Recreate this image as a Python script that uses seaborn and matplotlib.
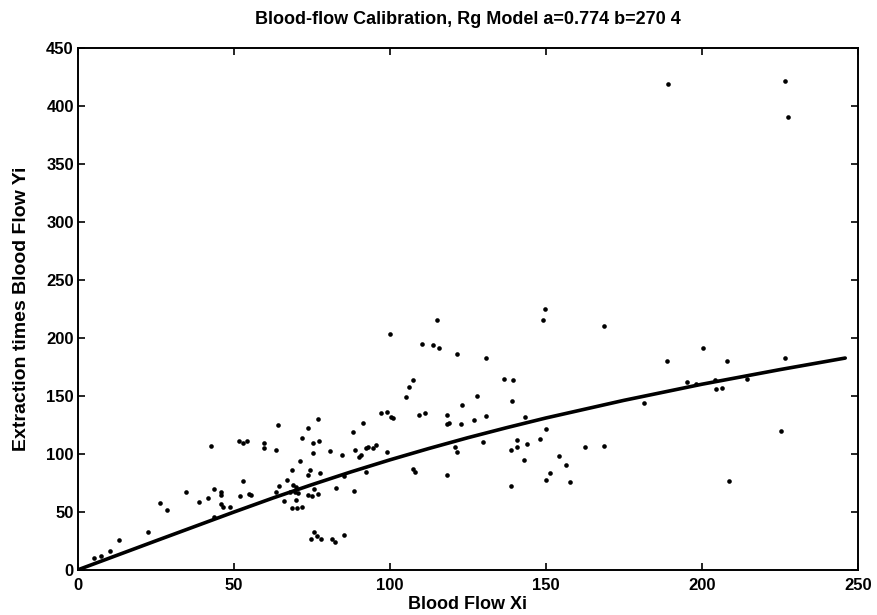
import matplotlib
matplotlib.use("Agg")
import matplotlib.pyplot as plt
import seaborn as sns
import pandas as pd

# Measured points (Blood Flow Xi, Extraction times Blood Flow Yi)
flow_x = [
    5.1, 7.3, 10.3, 13.2, 22.4,
    26.3, 28.4, 34.6, 38.8, 41.8, 42.5, 43.7, 45.7, 45.7, 45.8, 46.6, 48.7, 43.7,
    51.9, 52.8, 54.9, 55.4, 51.7, 53.0, 54.1,
    59.7, 59.7, 63.4, 64.0, 77.0, 73.6, 71.7, 75.3, 77.2, 88.2, 91.4, 75.4, 80.9,
    84.7, 88.8, 90.1, 90.7, 71.2, 68.5, 74.4, 73.8, 77.7, 66.9, 64.5, 68.8, 69.8,
    63.4, 67.9, 69.6, 70.4, 73.8, 74.9, 75.7, 77.0, 82.7, 88.6, 66.0, 69.8, 68.5,
    70.1, 71.7, 85.4,
    75.6, 74.7, 76.7, 77.9, 81.6, 82.4, 85.4,
    115.2, 100.0, 110.2, 113.7, 115.8, 121.6, 107.5, 106.2, 105.2, 123.0, 97.0,
    99.1, 100.5, 101.1, 109.2, 111.3, 118.2, 118.2, 118.9, 122.7, 92.3, 93.0,
    94.6, 95.7, 99.1, 120.8, 121.4, 92.3, 107.3, 108.2, 118.2, 127.0, 128.0,
    130.0, 130.9, 130.9,
    136.5, 139.4, 139.3, 138.9, 140.9, 140.9, 138.9, 143.0, 143.3, 144.0, 148.1,
    150.2, 149.1, 149.8, 150.2, 151.2, 154.3, 156.4, 157.7, 162.5, 168.7, 168.7,
    181.5, 188.9, 195.3, 198.3,
    189.2, 226.6, 227.7, 200.4, 208.1, 226.6, 204.2, 204.5, 206.5, 214.6, 225.5,
    208.7,
]
flow_y = [
    10.0, 11.9, 16.3, 25.8, 32.7,
    57.6, 51.5, 67.4, 58.7, 61.9, 106.6, 69.7, 66.8, 64.8, 56.4, 53.8, 54.1, 45.5,
    63.3, 76.3, 65.6, 64.8, 110.9, 109.5, 110.9,
    109.5, 104.8, 103.7, 124.5, 130.0, 122.5, 113.9, 109.5, 111.5, 119.0, 126.2,
    100.3, 102.3, 99.4, 103.1, 97.4, 99.4, 93.6, 86.1, 86.4, 82.1, 83.5, 77.7,
    72.6, 73.4, 71.4, 67.1, 67.1, 67.1, 66.2, 64.8, 63.9, 69.7, 65.4, 70.6, 67.6,
    59.0, 59.8, 53.2, 53.2, 53.8, 80.9,
    32.5, 26.4, 29.3, 26.4, 26.7, 24.3, 30.4,
    215.7, 203.3, 194.6, 193.8, 190.9, 186.0, 163.5, 157.4, 148.7, 142.4, 135.5,
    136.4, 132.0, 130.8, 133.4, 135.5, 133.2, 125.4, 126.5, 126.0, 105.2, 105.7,
    105.2, 107.2, 101.4, 105.7, 101.7, 84.1, 87.3, 84.4, 81.8, 129.1, 149.6,
    109.8, 182.5, 132.6,
    164.6, 164.1, 145.9, 103.7, 112.1, 105.7, 71.9, 95.1, 132.0, 108.7, 112.4,
    121.3, 215.4, 224.7, 77.5, 83.8, 98.3, 90.5, 75.4, 105.7, 106.6, 210.0,
    143.8, 179.9, 161.7, 160.6,
    418.9, 421.2, 390.3, 191.4, 179.7, 182.5, 163.7, 156.3, 156.8, 164.9, 119.6,
    76.9,
]

# Fitted Rg-model curve
curve_x = [0, 25, 50, 62.5, 75, 87.5, 100, 112.5, 125, 137.5, 150, 175, 200, 225, 246]
curve_y = [0, 25.0, 49.8, 61.9, 73.4, 84.4, 94.8, 104.6, 113.9, 122.6, 130.9, 146.1, 160.0, 172.6, 182.6]

title_text = "Blood-flow Calibration, Rg Model a=0.774 b=270 4"
x_label = "Blood Flow Xi"
y_label = "Extraction times Blood Flow Yi"
x_ticks = [0, 50, 100, 150, 200, 250]
y_ticks = [0, 50, 100, 150, 200, 250, 300, 350, 400, 450]

sns.set_theme(style="white")
plt.rcParams["font.family"] = ["Liberation Sans", "DejaVu Sans"]
plt.rcParams["xtick.direction"] = "in"
plt.rcParams["ytick.direction"] = "in"

pts = pd.DataFrame({"x": flow_x, "y": flow_y})
crv = pd.DataFrame({"x": curve_x, "y": curve_y})

fig = plt.figure(figsize=(8.77, 6.15), dpi=100)
ax = fig.add_axes([0.0889, 0.0735, 0.8891, 0.8485])

sns.scatterplot(data=pts, x="x", y="y", ax=ax, color="black", s=11,
                linewidth=0, marker="o", legend=False, zorder=3)
sns.lineplot(data=crv, x="x", y="y", ax=ax, color="black", linewidth=2.6,
             sort=True, estimator=None, zorder=2)

ax.set_xlim(0, 250)
ax.set_ylim(0, 450)
ax.set_xticks(x_ticks)
ax.set_yticks(y_ticks)
ax.tick_params(axis="both", which="both", top=True, right=True, bottom=True, left=True,
               length=5, width=1.2, color="black", labelsize=12, pad=3,
               labelcolor="black")
ax.tick_params(axis="x", pad=6)
for lbl in ax.get_xticklabels() + ax.get_yticklabels():
    lbl.set_fontweight("bold")
for s in ax.spines.values():
    s.set_visible(True)
    s.set_color("black")
    s.set_linewidth(1.4)

ax.set_title(title_text, fontsize=13, fontweight="bold", color="black", pad=17)
ax.set_xlabel(x_label, fontsize=13, fontweight="bold", color="black", labelpad=2)
ax.set_ylabel(y_label, fontsize=14, fontweight="bold", color="black", labelpad=12)

fig.savefig("out.png", dpi=100, facecolor="white")
